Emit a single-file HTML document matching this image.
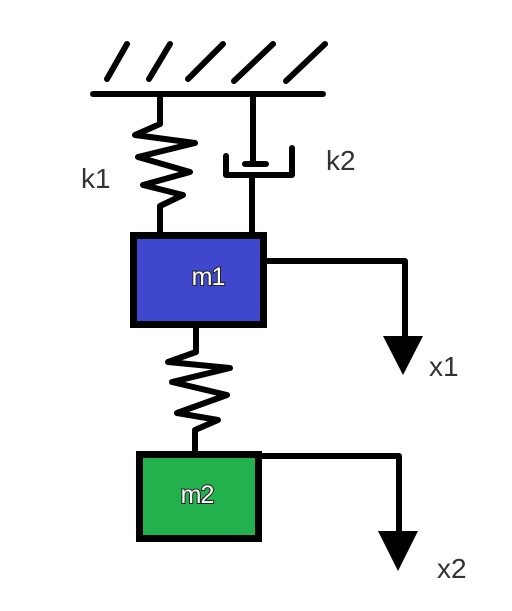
<!DOCTYPE html>
<html><head><style>
html,body{margin:0;padding:0;background:#fff;}
svg{display:block}
text{font-family:"Liberation Sans",sans-serif;}
</style></head><body>
<svg width="512" height="611" viewBox="0 0 512 611" xmlns="http://www.w3.org/2000/svg">
<g stroke="#000" stroke-width="6" stroke-linecap="round" fill="none" stroke-linejoin="round">
<line x1="107" y1="79" x2="127" y2="44"/>
<line x1="149" y1="79" x2="170" y2="44"/>
<line x1="188" y1="79" x2="223" y2="44"/>
<line x1="234" y1="81" x2="273" y2="44"/>
<line x1="286" y1="81" x2="325" y2="44"/>
<line x1="93" y1="94" x2="323" y2="94"/>
<polyline stroke-linecap="butt" points="160,94 160,124 135,135 195,143 138,157 190,172 143,185 183,195 160,206 160,232"/>
<polyline stroke-linecap="butt" points="253,94 253,131"/>
<line x1="245" y1="164" x2="266" y2="164"/>
<line x1="253" y1="131" x2="253" y2="164"/>
<polyline points="226,156 226,175 292,175 292,148"/>
<line x1="252" y1="175" x2="252" y2="232"/>
<polyline stroke-linecap="butt" points="196,328 196,352 168,362 230,368 172,382 227,395 177,413 218,420 195,430 195,452"/>
<polyline stroke-linecap="butt" points="267,261 405,261 405,340"/>
<polyline stroke-linecap="butt" points="262,456 399,456 399,532"/>
</g>
<rect x="133.5" y="235.5" width="130" height="89" fill="#3f48cc" stroke="#000" stroke-width="7"/>
<rect x="139.5" y="454.5" width="119" height="84" fill="#22b14c" stroke="#000" stroke-width="7"/>
<polygon points="383,336 423,336 403,375" fill="#000"/>
<polygon points="378,531 418,531 398,571" fill="#000"/>
<text x="208" y="285" font-size="25" fill="#fff" stroke="#222" stroke-width="2" paint-order="stroke" text-anchor="middle" letter-spacing="-1">m1</text>
<text x="197" y="503" font-size="25" fill="#fff" stroke="#222" stroke-width="2" paint-order="stroke" text-anchor="middle" letter-spacing="-1">m2</text>
<g fill="#333" font-size="28">
<text x="81" y="188">k1</text>
<text x="326" y="170">k2</text>
<text x="429" y="376">x1</text>
<text x="437" y="578">x2</text>
</g>
</svg>
</body></html>
